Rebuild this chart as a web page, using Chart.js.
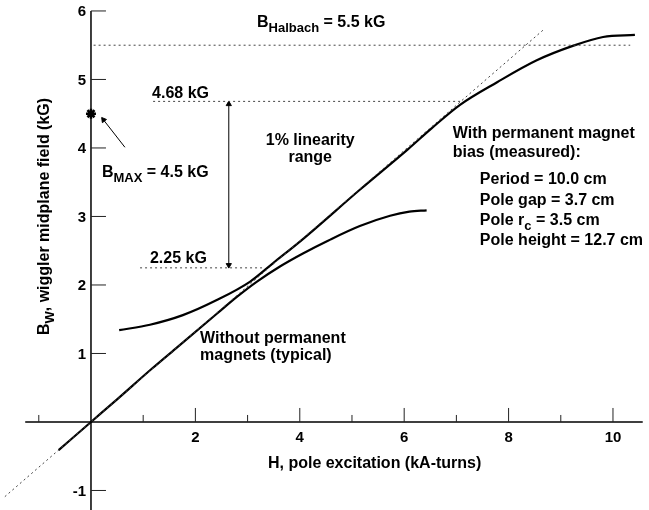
<!DOCTYPE html>
<html>
<head>
<meta charset="utf-8">
<script src="https://cdn.jsdelivr.net/npm/chart.js@4"></script>
<style>
body { margin: 0; background: #fff; }
#wrap { width: 649px; height: 510px; }
</style>
</head>
<body>
<div id="wrap"><canvas id="chart" width="649" height="510"></canvas></div>
<script>
// H (kA-turns) and B (kG)
var withPmH = [0.54, 1.13, 1.76, 2.41, 3.05, 3.49, 4.06, 5.15, 6.07, 6.53, 7.07, 7.78, 8.54, 9.23, 9.81, 10.42];
var withPmB = [1.34, 1.42, 1.56, 1.78, 2.05, 2.32, 2.67, 3.39, 3.98, 4.29, 4.63, 4.96, 5.28, 5.49, 5.62, 5.65];

var withoutPmH = [-0.62, 0, 0.5, 1.17, 1.65, 2.41, 2.8, 3.18, 3.62, 4.06, 4.55, 5.15, 5.73, 6.1, 6.43];
var withoutPmB = [-0.41, 0, 0.33, 0.78, 1.09, 1.58, 1.83, 2.05, 2.27, 2.46, 2.65, 2.86, 3.01, 3.07, 3.09];

// linear fit (dotted)
var fitH = [-1.65, 8.66];
var fitB = [-1.09, 5.72];

// reference levels
var halbachH = [0.05, 10.33], halbachB = [5.5, 5.5];
var upperH = [1.19, 7.1], upperB = [4.68, 4.68];
var lowerH = [0.94, 3.3], lowerB = [2.25, 2.25];
var rangeH = [2.64, 2.64], rangeB = [2.29, 4.64];
var bmaxH = [0], bmaxB = [4.5];
var bmaxArrowH = [0.65, 0.24], bmaxArrowB = [4.01, 4.41];

// axes
var xMajorTicks = [2, 4, 6, 8, 10];
var xMinorTicks = [-1, 1, 3, 5, 7, 9];
var xTickLabels = ['2', '4', '6', '8', '10'];
var yTicks = [-1, 1, 2, 3, 4, 5, 6];
var yTickLabels = ['-1', '1', '2', '3', '4', '5', '6'];

var FONT = '"Liberation Sans", Arial, sans-serif';

function pts(xs, ys) {
    return xs.map(function (x, i) { return {x: x, y: ys[i]}; });
}

function dashed(data) {
    return {
        data: data, showLine: true, borderColor: '#444', borderWidth: 1,
        borderDash: [2, 3], pointRadius: 0, fill: false
    };
}

// text: [h, b, runs, align]
var notes = [
    [3.18, 5.77, [['B'], ['Halbach', 1], [' = 5.5 kG']], 'left'],
    [1.17, 4.73, [['4.68 kG']], 'left'],
    [0.21, 3.58, [['B'], ['MAX', 1], [' = 4.5 kG']], 'left'],
    [1.13, 2.32, [['2.25 kG']], 'left'],
    [4.20, 4.04, [['1% linearity']], 'center'],
    [4.20, 3.79, [['range']], 'center'],
    [6.93, 4.15, [['With permanent magnet']], 'left'],
    [6.93, 3.87, [['bias (measured):']], 'left'],
    [7.45, 3.47, [['Period = 10.0 cm']], 'left'],
    [7.45, 3.17, [['Pole gap = 3.7 cm']], 'left'],
    [7.45, 2.88, [['Pole r'], ['c', 1], [' = 3.5 cm']], 'left'],
    [7.45, 2.58, [['Pole height = 12.7 cm']], 'left'],
    [2.09, 1.15, [['Without permanent']], 'left'],
    [2.09, 0.91, [['magnets (typical)']], 'left'],
    [3.39, -0.67, [['H, pole excitation (kA-turns)']], 'left']
];

function runsWidth(ctx, runs) {
    var w = 0;
    runs.forEach(function (r) {
        ctx.font = r[1] ? 'bold 13px ' + FONT : 'bold 16px ' + FONT;
        w += ctx.measureText(r[0]).width;
    });
    return w;
}

function drawRuns(ctx, x, y, runs, align) {
    var w = runsWidth(ctx, runs);
    if (align === 'center') x -= w / 2;
    ctx.textAlign = 'left';
    ctx.textBaseline = 'alphabetic';
    runs.forEach(function (r) {
        ctx.font = r[1] ? 'bold 13px ' + FONT : 'bold 16px ' + FONT;
        ctx.fillText(r[0], x, r[1] ? y + 5 : y);
        x += ctx.measureText(r[0]).width;
    });
}

var axesPlugin = {
    id: 'axes',
    beforeDatasetsDraw: function (chart) {
        var ctx = chart.ctx, xs = chart.scales.x, ys = chart.scales.y;
        var x0 = xs.getPixelForValue(0), y0 = ys.getPixelForValue(0);
        ctx.save();
        ctx.strokeStyle = '#000';
        ctx.lineWidth = 1.5;
        ctx.beginPath();
        ctx.moveTo(xs.getPixelForValue(-1.26), y0);
        ctx.lineTo(xs.getPixelForValue(10.57), y0);
        ctx.moveTo(x0, ys.getPixelForValue(6));
        ctx.lineTo(x0, ys.getPixelForValue(-1.3));
        ctx.stroke();

        ctx.lineWidth = 1;
        ctx.strokeStyle = '#222';
        ctx.beginPath();
        xMajorTicks.forEach(function (v) {
            var p = xs.getPixelForValue(v);
            ctx.moveTo(p, y0); ctx.lineTo(p, y0 - 14);
        });
        xMinorTicks.forEach(function (v) {
            var p = xs.getPixelForValue(v);
            ctx.moveTo(p, y0); ctx.lineTo(p, y0 - 7);
        });
        yTicks.forEach(function (v) {
            var p = ys.getPixelForValue(v);
            ctx.moveTo(x0, p); ctx.lineTo(x0 + 15, p);
        });
        ctx.stroke();

        ctx.fillStyle = '#000';
        ctx.font = 'bold 15px ' + FONT;
        ctx.textAlign = 'center';
        ctx.textBaseline = 'top';
        xMajorTicks.forEach(function (v, i) {
            ctx.fillText(xTickLabels[i], xs.getPixelForValue(v), y0 + 8);
        });
        ctx.textAlign = 'right';
        ctx.textBaseline = 'middle';
        yTicks.forEach(function (v, i) {
            ctx.fillText(yTickLabels[i], x0 - 5, ys.getPixelForValue(v) + 1);
        });
        ctx.restore();
    },
    afterDraw: function (chart) {
        var ctx = chart.ctx, xs = chart.scales.x, ys = chart.scales.y;
        ctx.save();
        ctx.fillStyle = '#000';
        notes.forEach(function (n) {
            drawRuns(ctx, xs.getPixelForValue(n[0]), ys.getPixelForValue(n[1]), n[2], n[3]);
        });
        // y axis title
        var title = [['B'], ['W', 1], [', wiggler midplane field (kG)']];
        ctx.translate(xs.getPixelForValue(-0.9) + 5, ys.getPixelForValue(3.0));
        ctx.rotate(-Math.PI / 2);
        drawRuns(ctx, 0, 0, title, 'center');
        ctx.restore();
    }
};

new Chart(document.getElementById('chart'), {
    type: 'scatter',
    data: {
        datasets: [
            dashed(pts(fitH, fitB)),
            dashed(pts(halbachH, halbachB)),
            dashed(pts(upperH, upperB)),
            dashed(pts(lowerH, lowerB)),
            {
                data: pts(withPmH, withPmB), showLine: true, borderColor: '#000',
                borderWidth: 2.2, pointRadius: 0, cubicInterpolationMode: 'monotone'
            },
            {
                data: pts(withoutPmH, withoutPmB), showLine: true, borderColor: '#000',
                borderWidth: 2.2, pointRadius: 0, cubicInterpolationMode: 'monotone'
            },
            {
                data: pts(rangeH, rangeB), showLine: true, borderColor: '#000', borderWidth: 1,
                pointStyle: 'triangle', pointRadius: 3, pointRotation: [180, 0],
                pointBackgroundColor: '#000', pointBorderColor: '#000', pointBorderWidth: 1
            },
            {
                data: pts(bmaxArrowH, bmaxArrowB), showLine: true, borderColor: '#000', borderWidth: 1,
                pointStyle: 'triangle', pointRadius: [0, 3], pointRotation: -38,
                pointBackgroundColor: '#000', pointBorderColor: '#000', pointBorderWidth: 1
            },
            {
                data: pts(bmaxH, bmaxB), showLine: false, pointStyle: 'star',
                pointRadius: 5, borderColor: '#000', pointBorderWidth: 2.5
            }
        ]
    },
    options: {
        responsive: false,
        animation: false,
        layout: { padding: 0, autoPadding: false },
        plugins: { legend: { display: false }, tooltip: { enabled: false } },
        scales: {
            x: { type: 'linear', min: -1.743, max: 10.69, display: false },
            y: { type: 'linear', min: -1.285, max: 6.16, display: false }
        }
    },
    plugins: [axesPlugin]
});
</script>
</body>
</html>
